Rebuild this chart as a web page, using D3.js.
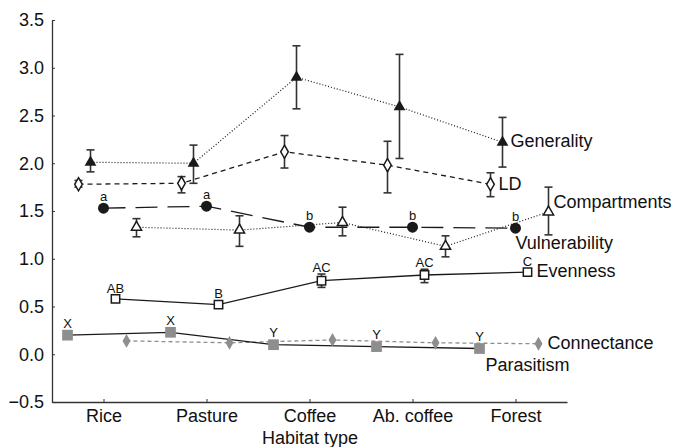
<!DOCTYPE html>
<html>
<head>
<meta charset="utf-8">
<script src="https://cdn.jsdelivr.net/npm/d3@7"></script>
<style>
  body { margin: 0; background: #fff; }
  svg { font-family: "Liberation Sans", Arial, sans-serif; }
</style>
</head>
<body>
<div id="chart"></div>
<script>
const W = 681, H = 447;

// data
const categories = ["Rice", "Pasture", "Coffee", "Ab. coffee", "Forest"];
const yTicks = [-0.5, 0, 0.5, 1, 1.5, 2, 2.5, 3, 3.5];

const generality = [2.01, 2.00, 2.90, 2.59, 2.22];
const generalityLo = [1.91, 1.79, 2.57, 2.05, 1.96];
const generalityHi = [2.14, 2.19, 3.23, 3.14, 2.48];

const ld = [1.78, 1.79, 2.12, 1.98, 1.78];
const ldLo = [1.75, 1.69, 1.95, 1.69, 1.65];
const ldHi = [1.82, 1.86, 2.29, 2.23, 1.90];

const vulnerability = [1.53, 1.55, 1.33, 1.33, 1.32];
const vulnerabilityLetters = ["a", "a", "b", "b", "b"];

const compartments = [1.33, 1.30, 1.38, 1.13, 1.49];
const compartmentsLo = [1.23, 1.13, 1.24, 1.02, 1.25];
const compartmentsHi = [1.42, 1.45, 1.54, 1.24, 1.75];

const evenness = [0.58, 0.52, 0.77, 0.83, 0.86];
const evennessLo = [0.56, 0.49, 0.70, 0.75, 0.85];
const evennessHi = [0.60, 0.55, 0.84, 0.89, 0.87];
const evennessLetters = ["AB", "B", "AC", "AC", "C"];

const parasitism = [0.20, 0.23, 0.10, 0.08, 0.06];
const parasitismLetters = ["X", "X", "Y", "Y", "Y"];

const connectance = [0.14, 0.12, 0.15, 0.12, 0.11];

// drawing setup
const x = d3.scalePoint().domain(categories).range([52, 567]).padding(0.5);
const y = d3.scaleLinear().domain([-0.5, 3.5]).range([402, 20]);

const svg = d3.select("#chart").append("svg")
  .attr("width", W)
  .attr("height", H);

const gray = "#8e8e8e";
const ink = "#1a1a1a";

const series = [
  { name: "Connectance", vals: connectance, dx: 23, dash: "4,3", lineColor: gray, sym: d3.symbolDiamond, size: 55, fill: gray, stroke: "none",
    label: { dx: 9, dy: 5 } },
  { name: "Parasitism", vals: parasitism, dx: -36, dash: null, lineColor: ink, sym: d3.symbolSquare, size: 115, fill: gray, stroke: "none",
    letters: parasitismLetters, label: { dx: 6, dy: 22 } },
  { name: "Evenness", vals: evenness, lo: evennessLo, hi: evennessHi, dx: 12, dash: null, lineColor: ink, sym: d3.symbolSquare, size: 70, fill: "#fff", stroke: ink,
    letters: evennessLetters, label: { dx: 9, dy: 5 } },
  { name: "Compartments", vals: compartments, lo: compartmentsLo, hi: compartmentsHi, dx: 33, dash: "1,2", lineColor: ink, sym: d3.symbolTriangle, size: 45, fill: "#fff", stroke: ink,
    label: { dx: 5, dy: -4 } },
  { name: "Vulnerability", vals: vulnerability, dx: 0, dash: "22,10", lineColor: ink, sym: d3.symbolCircle, size: 95, fill: ink, stroke: "none",
    letters: vulnerabilityLetters, label: { dx: 0, dy: 21 } },
  { name: "LD", vals: ld, lo: ldLo, hi: ldHi, dx: -25, dash: "5,4", lineColor: ink, sym: d3.symbolDiamond, size: 50, fill: "#fff", stroke: ink,
    label: { dx: 8, dy: 6 } },
  { name: "Generality", vals: generality, lo: generalityLo, hi: generalityHi, dx: -13, dash: "1,2", lineColor: ink, sym: d3.symbolTriangle, size: 60, fill: ink, stroke: "none",
    label: { dx: 8, dy: 5 } }
];

// axes
const yAxis = d3.axisLeft(y).tickValues(yTicks).tickFormat(d3.format(".1f"))
  .tickSizeInner(-3).tickSizeOuter(0).tickPadding(8);
const xAxis = d3.axisBottom(x).tickSizeInner(-3).tickSizeOuter(0).tickPadding(7);

const gy = svg.append("g").attr("transform", "translate(52,0)").call(yAxis);
const gx = svg.append("g").attr("transform", "translate(0,402)").call(xAxis);
[gx, gy].forEach(g => {
  g.select(".domain").attr("stroke", "#333").attr("stroke-width", 1.3);
  g.selectAll(".tick line").attr("stroke", "#333");
  g.selectAll("text").attr("font-size", 18).attr("fill", "#111")
    .attr("font-family", "'Liberation Sans', Arial, sans-serif");
});

svg.append("text")
  .attr("x", 310).attr("y", 444)
  .attr("text-anchor", "middle")
  .attr("font-size", 18).attr("fill", "#111")
  .text("Habitat type");

const px = (s, i) => x(categories[i]) + s.dx;

// lines
series.forEach(s => {
  const line = d3.line().x((d, i) => px(s, i)).y(d => y(d));
  svg.append("path")
    .datum(s.vals)
    .attr("d", line)
    .attr("fill", "none")
    .attr("stroke", s.lineColor)
    .attr("stroke-width", s.dash === "1,2" ? 1.2 : 1.3)
    .attr("stroke-dasharray", s.dash);
});

// error bars
series.filter(s => s.lo).forEach(s => {
  const g = svg.append("g").attr("stroke", "#333").attr("stroke-width", 1.6);
  s.vals.forEach((v, i) => {
    const cx = px(s, i);
    g.append("line").attr("x1", cx).attr("x2", cx).attr("y1", y(s.lo[i])).attr("y2", y(s.hi[i]));
    [s.lo[i], s.hi[i]].forEach(e => {
      g.append("line").attr("x1", cx - 4).attr("x2", cx + 4).attr("y1", y(e)).attr("y2", y(e));
    });
  });
});

// markers
series.forEach(s => {
  svg.append("g").selectAll("path")
    .data(s.vals)
    .join("path")
    .attr("d", d3.symbol().type(s.sym).size(s.size))
    .attr("transform", (d, i) => `translate(${px(s, i)},${y(d)})`)
    .attr("fill", s.fill)
    .attr("stroke", s.stroke)
    .attr("stroke-width", 1.5);
});

// significance letters
series.filter(s => s.letters).forEach(s => {
  const half = Math.sqrt(s.size) / 2;
  svg.append("g").selectAll("text")
    .data(s.letters)
    .join("text")
    .attr("x", (d, i) => px(s, i))
    .attr("y", (d, i) => {
      const top = s.hi ? Math.min(y(s.hi[i]), y(s.vals[i]) - half) : y(s.vals[i]) - half;
      return top - 2;
    })
    .attr("text-anchor", "middle")
    .attr("font-size", 13)
    .attr("fill", "#111")
    .text(d => d);
});

// series labels next to the last point
series.forEach(s => {
  const last = s.vals.length - 1;
  svg.append("text")
    .attr("x", px(s, last) + s.label.dx)
    .attr("y", y(s.vals[last]) + s.label.dy)
    .attr("font-size", 18)
    .attr("fill", "#111")
    .text(s.name);
});
</script>
</body>
</html>
